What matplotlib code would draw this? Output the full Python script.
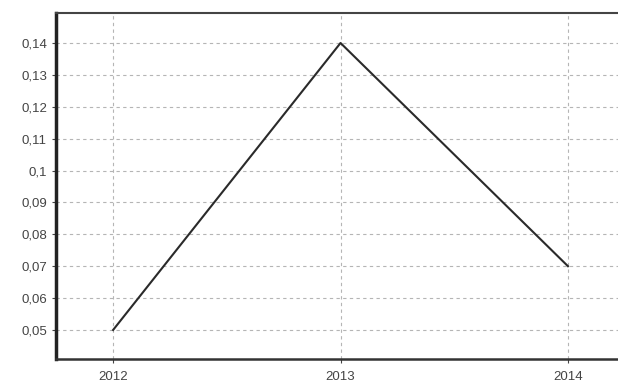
import matplotlib.pyplot as plt
from matplotlib.ticker import FuncFormatter

years = [2012, 2013, 2014]
values = [0.05, 0.14, 0.07]
yticks = [0.05, 0.06, 0.07, 0.08, 0.09, 0.10, 0.11, 0.12, 0.13, 0.14]

plt.rcParams["font.family"] = ["Liberation Sans", "DejaVu Sans"]

fig = plt.figure(figsize=(6.18, 3.88), dpi=100)
ax = fig.add_axes([56 / 618, 1 - 359 / 388, 1 - 56 / 618, (359 - 13) / 388])

ax.plot(years, values, color="#2a2a2a", linewidth=1.5)

ax.set_xlim(2011.749, 2014.22)
ax.set_ylim(0.0409, 0.1494)
ax.set_xticks(years)
ax.set_yticks(yticks)
ax.yaxis.set_major_formatter(FuncFormatter(lambda v, p: ("%g" % round(v, 2)).replace(".", ",")))

ax.grid(True, color="#b5b5b5", linestyle=(0, (3, 3)), linewidth=0.8)
ax.tick_params(axis="both", labelsize=9.5, colors="#444444", length=3, width=0.8)
ax.tick_params(axis="x", pad=6)

ax.spines["right"].set_visible(False)
ax.spines["left"].set_linewidth(2.5)
ax.spines["left"].set_color("#222222")
ax.spines["bottom"].set_linewidth(1.8)
ax.spines["bottom"].set_color("#333333")
ax.spines["top"].set_linewidth(1.5)
ax.spines["top"].set_color("#444444")

fig.savefig("out.png", dpi=100)
